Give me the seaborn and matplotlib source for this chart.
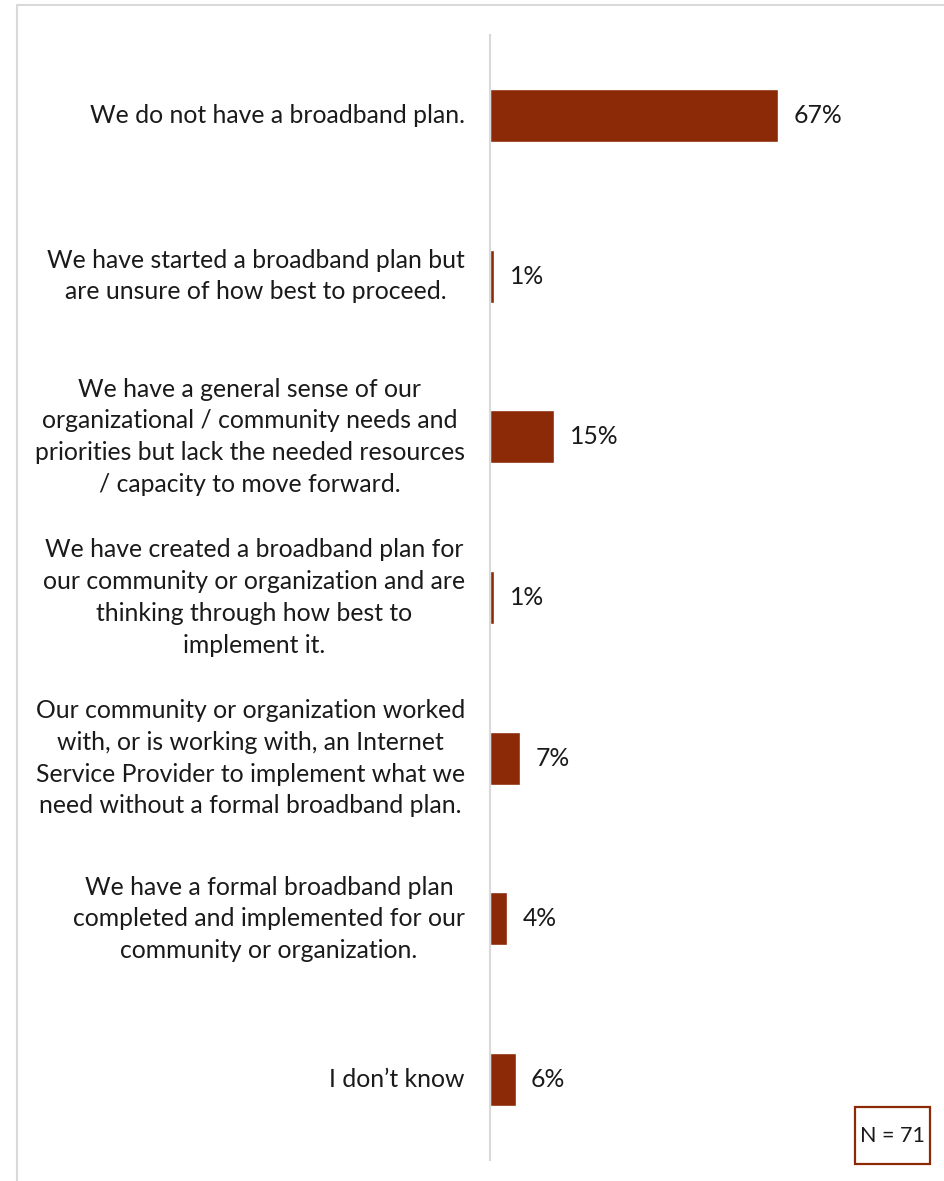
import matplotlib
matplotlib.use("Agg")
import matplotlib.pyplot as plt
from matplotlib.patches import Rectangle
import seaborn as sns
import pandas as pd

categories = [
    "We do not have a broadband plan.",
    "We have started a broadband plan but\nare unsure of how best to proceed.",
    "We have a general sense of our\norganizational / community needs and\npriorities but lack the needed resources\n/ capacity to move forward.",
    "We have created a broadband plan for\nour community or organization and are\nthinking through how best to\nimplement it.",
    "Our community or organization worked\nwith, or is working with, an Internet\nService Provider to implement what we\nneed without a formal broadband plan.",
    "We have a formal broadband plan\ncompleted and implemented for our\ncommunity or organization.",
    "I don\u2019t know",
]
percent = [67, 1, 15, 1, 7, 4, 6]
sample_note = "N = 71"

BAR = "#8C2A07"
FONT = "Lato"
FS = 17.8

sns.set_theme(style="white")
plt.rcParams["font.family"] = [FONT, "DejaVu Sans"]

W, H = 945, 1181
fig = plt.figure(figsize=(W / 100, H / 100), dpi=100)
fig.patch.set_facecolor("white")

# outer frame (runs off the right and bottom edges)
fig.add_artist(Rectangle((17.5 / W, -0.05), 1.2, 1 - 4.5 / H + 0.05,
                         transform=fig.transFigure, fill=False,
                         edgecolor="#D9D9D9", linewidth=1.5))

ax = fig.add_axes([490 / W, 1 - 1160 / H, 430 / W, (1160 - 35) / H])

df = pd.DataFrame({"category": categories, "percent": percent})
sns.barplot(data=df, x="percent", y="category", orient="h", color=BAR,
            saturation=1, width=0.33, ax=ax)
ax.set_xlim(0, 100)
ax.set_ylim(6.5, -0.5)
ax.set_xlabel("")
ax.set_ylabel("")
ax.set_xticks([])

for s in ["top", "right", "bottom"]:
    ax.spines[s].set_visible(False)
ax.spines["left"].set_color("#D9D9D9")
ax.spines["left"].set_linewidth(1.5)

# category labels: right-aligned blocks, lines centred within each block
ax.tick_params(axis="y", length=0, labelleft=False)
for i, cat in enumerate(categories):
    ax.annotate(cat, xy=(0, i), xycoords=("axes fraction", "data"),
                xytext=(-18, 0), textcoords="offset points",
                ha="right", va="center", multialignment="center",
                linespacing=1.46, fontsize=FS, color="#1a1a1a")

ax.bar_label(ax.containers[0], labels=[f"{v}%" for v in percent],
             padding=11, fontsize=FS, color="#1a1a1a")

# sample size box
bx0, by0, bw, bh = 855, 1107, 75, 57
fig.add_artist(Rectangle((bx0 / W, 1 - (by0 + bh) / H), bw / W, bh / H,
                         transform=fig.transFigure, fill=False,
                         edgecolor="#8C2A07", linewidth=1.6))
fig.text((bx0 + bw / 2) / W, 1 - (by0 + bh / 2) / H, sample_note,
         ha="center", va="center", fontsize=15.5, color="#1a1a1a")

fig.savefig("out.png", dpi=100)
